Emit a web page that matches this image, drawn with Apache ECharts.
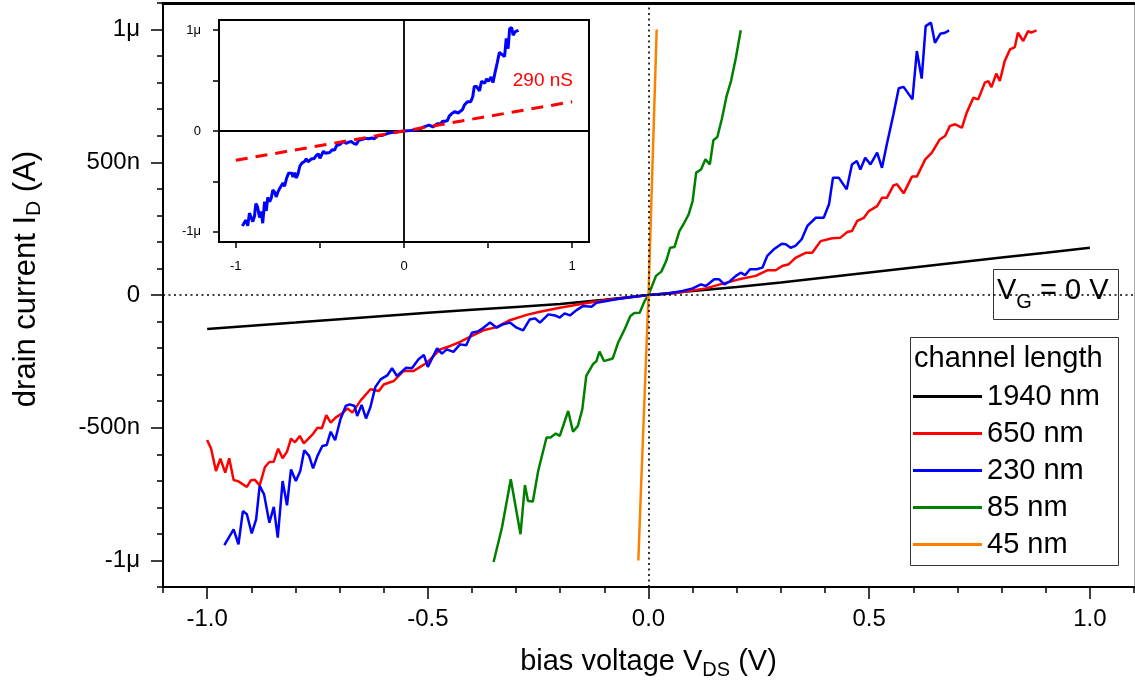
<!DOCTYPE html>
<html><head><meta charset="utf-8">
<script src="https://cdn.jsdelivr.net/npm/echarts@6/dist/echarts.min.js"></script>
<style>html,body{margin:0;padding:0;background:#fff}#c{width:1135px;height:686px}</style>
</head><body><div id="c"></div><script>
const FONT = '"Liberation Sans", Arial, Helvetica, sans-serif';

// legend / series names
const seriesNames = ['1940 nm', '650 nm', '230 nm', '85 nm', '45 nm'];
const seriesColors = ['#000000', '#ff0000', '#0000ff', '#008000', '#ff8000'];

// main-plot tick values (V and nA)
const xMajorTicks = [-1.0, -0.5, 0.0, 0.5, 1.0];
const yMajorTicks = [-1000, -500, 0, 500, 1000];
const yTickLabels = { '1000': '1μ', '500': '500n', '0': '0', '-500': '-500n', '-1000': '-1μ' };
// inset ticks
const insetXTicks = [-1, -0.5, 0, 0.5, 1];
const insetXLabels = [-1, 0, 1];
const insetYTicks = [-1000, -500, 0, 500, 1000];
const insetYLabels = [-1000, 0, 1000];
const insetYTickLabels = { '1000': '1μ', '0': '0', '-1000': '-1μ' };

// data: [bias voltage V, drain current nA]
const black1940 = [[-1.0,-128],[-0.9,-116],[-0.8,-104],[-0.7,-91],[-0.6,-79],[-0.5,-67],[-0.4,-56],[-0.3,-45],[-0.2,-34],[-0.1,-18],[0,0],[0.1,15],[0.2,30],[0.3,47],[0.4,66],[0.5,85],[0.6,104],[0.7,122],[0.8,141],[0.9,159],[1.0,178]];

const red650 = [[-1.0,-546],[-0.991,-579],[-0.980,-663],[-0.970,-617],[-0.959,-669],[-0.950,-615],[-0.940,-697],[-0.929,-702],[-0.910,-723],[-0.901,-698],[-0.892,-696],[-0.881,-717],[-0.869,-648],[-0.859,-629],[-0.849,-628],[-0.839,-579],[-0.829,-615],[-0.819,-590],[-0.810,-541],[-0.801,-555],[-0.790,-531],[-0.781,-559],[-0.762,-527],[-0.750,-500],[-0.740,-502],[-0.730,-453],[-0.720,-481],[-0.709,-462],[-0.694,-446],[-0.682,-427],[-0.671,-443],[-0.652,-397],[-0.630,-355],[-0.611,-362],[-0.600,-337],[-0.577,-324],[-0.555,-286],[-0.532,-286],[-0.502,-255],[-0.472,-205],[-0.449,-192],[-0.427,-177],[-0.400,-154],[-0.374,-133],[-0.344,-121],[-0.314,-95],[-0.276,-75],[-0.246,-63],[-0.201,-48],[-0.156,-35],[-0.111,-23],[-0.050,-10],[0,0],[0.055,6],[0.130,25],[0.168,43],[0.205,59],[0.243,72],[0.269,93],[0.288,93],[0.303,109],[0.318,116],[0.333,140],[0.356,159],[0.371,159],[0.390,203],[0.416,214],[0.435,216],[0.450,237],[0.461,241],[0.473,279],[0.488,291],[0.499,316],[0.518,335],[0.529,366],[0.540,366],[0.555,413],[0.563,417],[0.578,383],[0.597,446],[0.608,446],[0.627,511],[0.642,536],[0.660,586],[0.672,599],[0.683,637],[0.695,643],[0.710,630],[0.721,687],[0.736,743],[0.747,737],[0.762,800],[0.770,806],[0.777,783],[0.788,834],[0.796,806],[0.807,881],[0.819,925],[0.830,934],[0.837,988],[0.849,957],[0.860,994],[0.867,988],[0.879,997]];

const blue230 = [[-0.961,-942],[-0.940,-883],[-0.929,-939],[-0.919,-814],[-0.910,-826],[-0.899,-898],[-0.889,-845],[-0.881,-719],[-0.871,-751],[-0.859,-858],[-0.849,-798],[-0.840,-914],[-0.829,-701],[-0.819,-792],[-0.810,-657],[-0.799,-701],[-0.789,-663],[-0.780,-585],[-0.769,-606],[-0.760,-653],[-0.750,-606],[-0.739,-569],[-0.729,-565],[-0.720,-515],[-0.710,-547],[-0.698,-468],[-0.686,-418],[-0.677,-412],[-0.666,-418],[-0.660,-456],[-0.650,-414],[-0.640,-465],[-0.630,-422],[-0.619,-347],[-0.607,-318],[-0.592,-303],[-0.581,-276],[-0.570,-305],[-0.549,-274],[-0.536,-276],[-0.521,-242],[-0.509,-226],[-0.500,-271],[-0.479,-201],[-0.468,-221],[-0.457,-205],[-0.442,-214],[-0.427,-186],[-0.413,-189],[-0.400,-142],[-0.385,-136],[-0.374,-123],[-0.359,-104],[-0.344,-123],[-0.329,-110],[-0.314,-104],[-0.299,-123],[-0.284,-133],[-0.269,-92],[-0.257,-88],[-0.246,-104],[-0.227,-73],[-0.212,-77],[-0.201,-85],[-0.190,-69],[-0.178,-77],[-0.163,-57],[-0.148,-41],[-0.129,-44],[-0.118,-29],[-0.095,-23],[-0.073,-16],[-0.050,-10],[0,0],[0.040,5],[0.077,15],[0.100,25],[0.119,40],[0.130,34],[0.149,59],[0.160,59],[0.172,40],[0.183,50],[0.198,72],[0.209,84],[0.219,75],[0.230,97],[0.245,97],[0.258,103],[0.269,147],[0.284,172],[0.302,193],[0.311,191],[0.322,178],[0.333,185],[0.347,210],[0.360,260],[0.379,291],[0.397,291],[0.409,342],[0.418,442],[0.431,442],[0.449,398],[0.461,492],[0.472,505],[0.480,473],[0.491,517],[0.503,492],[0.518,536],[0.529,479],[0.540,568],[0.555,681],[0.567,779],[0.578,784],[0.598,737],[0.608,919],[0.619,815],[0.628,1013],[0.640,1026],[0.649,950],[0.661,984],[0.672,988],[0.681,997]];

const green85 = [[-0.351,-1006],[-0.332,-876],[-0.312,-694],[-0.290,-901],[-0.280,-716],[-0.273,-776],[-0.262,-778],[-0.250,-663],[-0.231,-537],[-0.222,-537],[-0.210,-522],[-0.201,-531],[-0.182,-437],[-0.171,-515],[-0.160,-493],[-0.150,-431],[-0.141,-305],[-0.126,-261],[-0.118,-249],[-0.111,-213],[-0.101,-249],[-0.081,-239],[-0.069,-180],[-0.054,-129],[-0.041,-79],[-0.032,-68],[-0.020,-67],[-0.009,-23],[0,0],[0.017,72],[0.029,88],[0.040,128],[0.049,178],[0.059,181],[0.070,241],[0.081,272],[0.091,304],[0.100,354],[0.108,461],[0.119,473],[0.129,511],[0.139,492],[0.147,583],[0.156,595],[0.166,662],[0.177,750],[0.187,806],[0.198,894],[0.209,997]];

const orange45 = [[-0.023,-1000],[-0.017,-730],[0,0],[0.0185,1000]];

// inset linear fit (290 nS)
const fit290 = [[-1, -290], [1, 290]];

const mainData = [black1940, red650, blue230, green85, orange45];

const chart = echarts.init(document.getElementById('c'), null, { renderer: 'canvas' });

const mainSeries = mainData.map((d, i) => ({
  type: 'line', name: seriesNames[i], data: d, xAxisIndex: 0, yAxisIndex: 0,
  showSymbol: false, symbol: 'none', silent: true,
  lineStyle: { color: seriesColors[i], width: 2.5 },
  itemStyle: { color: seriesColors[i] },
  z: 3
}));
mainSeries[0].markLine = {
  silent: true, symbol: 'none', label: { show: false },
  lineStyle: { color: '#000', type: [2, 3.5], width: 1.6 },
  data: [{ xAxis: 0 }, { yAxis: 0 }]
};

const subRich = (size, sub, lh) => ({
  n: { fontSize: size, lineHeight: lh, fontFamily: FONT, color: '#000' },
  s: { fontSize: sub, lineHeight: Math.round(sub * 0.95), verticalAlign: 'bottom', fontFamily: FONT, color: '#000' }
});

const option = {
  animation: false,
  backgroundColor: '#fff',
  textStyle: { fontFamily: FONT },
  grid: [
    { left: 163, right: 1, top: 3, bottom: 99, containLabel: false },
    { left: 219, top: 20, width: 370, height: 222, show: true, backgroundColor: '#fff', borderColor: '#000', borderWidth: 2, z: 5 }
  ],
  xAxis: [
    { gridIndex: 0, type: 'value', min: -1.1, max: 1.1, position: 'bottom',
      axisLine: { show: true, onZero: false, lineStyle: { color: '#000', width: 2 } },
      axisTick: { show: true, customValues: xMajorTicks, length: 12, lineStyle: { color: '#000', width: 1.5 } },
      axisLabel: { customValues: xMajorTicks, formatter: v => v.toFixed(1), fontSize: 24, margin: 20, color: '#000', fontFamily: FONT },
      splitLine: { show: false },
      name: '{n|bias voltage V}{s|DS}{n| (V)}', nameLocation: 'middle', nameGap: 56,
      nameTextStyle: { rich: subRich(29, 20, 37) } },
    { gridIndex: 0, type: 'value', min: -1.1, max: 1.1, interval: 0.1, position: 'bottom',
      axisLine: { show: false, onZero: false }, axisLabel: { show: false },
      axisTick: { show: true, length: 6, lineStyle: { color: '#000', width: 1.5 } },
      splitLine: { show: false } },
    { gridIndex: 0, type: 'value', min: -1.1, max: 1.1, position: 'top',
      axisLine: { show: true, onZero: false, lineStyle: { color: '#000', width: 3 } },
      axisTick: { show: false }, axisLabel: { show: false }, splitLine: { show: false } },
    { gridIndex: 1, type: 'value', min: -1.1, max: 1.1, position: 'bottom',
      axisLine: { show: true, onZero: false, lineStyle: { color: '#000', width: 2 } },
      axisTick: { show: true, customValues: insetXTicks, length: 6, lineStyle: { color: '#000', width: 1.5 } },
      axisLabel: { customValues: insetXLabels, formatter: v => String(v), fontSize: 13, margin: 18, color: '#000', fontFamily: FONT },
      splitLine: { show: false } }
  ],
  yAxis: [
    { gridIndex: 0, type: 'value', min: -1100, max: 1100, position: 'left',
      axisLine: { show: true, onZero: false, lineStyle: { color: '#000', width: 2 } },
      axisTick: { show: true, customValues: yMajorTicks, length: 12, lineStyle: { color: '#000', width: 1.5 } },
      axisLabel: { customValues: yMajorTicks, formatter: v => yTickLabels[String(Math.round(v))], fontSize: 24, margin: 23, color: '#000', fontFamily: FONT },
      splitLine: { show: false },
      name: '{n|drain current I}{s|D}{n| (A)}', nameLocation: 'middle', nameGap: 118,
      nameTextStyle: { rich: subRich(31, 21, 37), padding: [0, 0, 0, 32] } },
    { gridIndex: 0, type: 'value', min: -1100, max: 1100, interval: 100, position: 'left',
      axisLine: { show: false, onZero: false }, axisLabel: { show: false },
      axisTick: { show: true, length: 6, lineStyle: { color: '#000', width: 1.5 } },
      splitLine: { show: false } },
    { gridIndex: 0, type: 'value', min: -1100, max: 1100, position: 'right',
      axisLine: { show: true, onZero: false, lineStyle: { color: '#aaa', width: 1 } },
      axisTick: { show: false }, axisLabel: { show: false }, splitLine: { show: false } },
    { gridIndex: 1, type: 'value', min: -1100, max: 1100, position: 'left',
      axisLine: { show: true, onZero: false, lineStyle: { color: '#000', width: 2 } },
      axisTick: { show: true, customValues: insetYTicks, length: 6, lineStyle: { color: '#000', width: 1.5 } },
      axisLabel: { customValues: insetYLabels, formatter: v => insetYTickLabels[String(Math.round(v))], fontSize: 13, margin: 18, color: '#000', fontFamily: FONT },
      splitLine: { show: false } }
  ],
  legend: {
    data: seriesNames, orient: 'vertical', left: 913, top: 378, padding: 0,
    itemGap: 0, itemWidth: 69, itemHeight: 3, icon: 'rect',
    selectedMode: false, z: 6,
    textStyle: { fontSize: 29, lineHeight: 37, color: '#000', fontFamily: FONT }
  },
  graphic: [
    { type: 'rect', z: 5, shape: { x: 910.5, y: 337.5, width: 208, height: 228 }, style: { fill: '#fff', stroke: '#333', lineWidth: 1 } },
    { type: 'text', z: 6, x: 914, y: 359, style: { text: 'channel length', fontSize: 29, fontFamily: FONT, fill: '#000', verticalAlign: 'middle', align: 'left' } },
    { type: 'rect', z: 5, shape: { x: 993.5, y: 269.5, width: 125, height: 50 }, style: { fill: '#fff', stroke: '#333', lineWidth: 1 } },
    { type: 'text', z: 6, x: 997, y: 291, style: {
        text: '{n|V}{s|G}{n| = 0 V}', fontFamily: FONT, fill: '#000', verticalAlign: 'middle', align: 'left',
        rich: subRich(29, 20, 43) } },
    { type: 'text', z: 20, x: 573, y: 81, style: { text: '290 nS', fontSize: 19, fontFamily: FONT, fill: '#ff0000', verticalAlign: 'middle', align: 'right' } }
  ],
  series: mainSeries.concat([
    { type: 'line', name: 'inset 230 nm', data: blue230, xAxisIndex: 3, yAxisIndex: 3,
      showSymbol: false, symbol: 'none', silent: true, z: 10,
      lineStyle: { color: '#0000ff', width: 3 },
      markLine: { silent: true, symbol: 'none', label: { show: false },
        lineStyle: { color: '#000', type: 'solid', width: 1.8 },
        data: [{ xAxis: 0 }, { yAxis: 0 }] } },
    { type: 'line', name: 'fit 290 nS', data: fit290, xAxisIndex: 3, yAxisIndex: 3,
      showSymbol: false, symbol: 'none', silent: true, z: 11,
      lineStyle: { color: '#ff0000', width: 3, type: [12, 8] } }
  ])
};
chart.setOption(option);
</script></body></html>
